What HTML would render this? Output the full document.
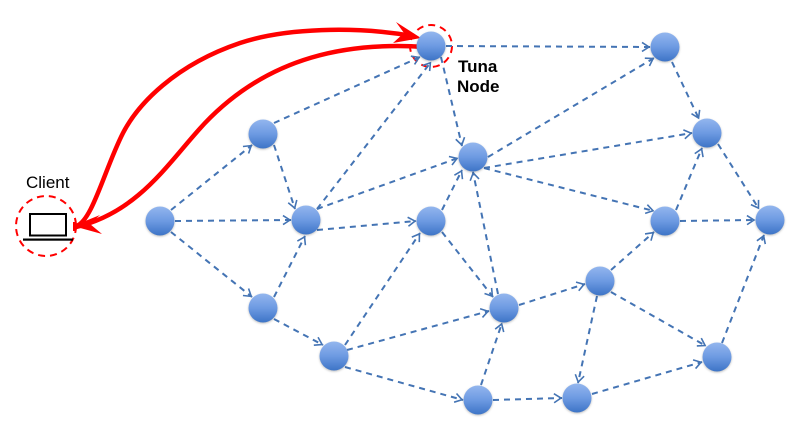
<!DOCTYPE html>
<html><head><meta charset="utf-8"><style>
html,body{margin:0;padding:0;background:#fff}
svg{display:block}
text{font-family:"Liberation Sans",sans-serif;fill:#000}
</style></head><body>
<svg width="800" height="426" viewBox="0 0 800 426" xmlns="http://www.w3.org/2000/svg">
<defs>
<linearGradient id="g" x1="0" y1="0" x2="0" y2="1"><stop offset="0" stop-color="#93b6ee"/><stop offset=".5" stop-color="#6d9ae2"/><stop offset="1" stop-color="#3d74c6"/></linearGradient>
<marker id="a" markerUnits="userSpaceOnUse" markerWidth="1" markerHeight="1" orient="auto" overflow="visible" refX="0" refY="0">
<path d="M-8,-4.500 L-1,0 L-8,4.500" fill="none" stroke="#4474b4" stroke-width="1.600"/>
</marker>
</defs>
<g fill="none" stroke="#f00" stroke-width="2" stroke-dasharray="7 5">
<circle cx="46" cy="226" r="30"/>
<circle cx="431" cy="46" r="21"/>
</g>
<g stroke="#4474b4" stroke-width="2" stroke-dasharray="6 5" fill="none" marker-end="url(#a)">
<path d="M171,210L252,145"/>
<path d="M175,221L291,220"/>
<path d="M171,232L252,297"/>
<path d="M274,145L295,209"/>
<path d="M274,123L420,57"/>
<path d="M317,209L431,62"/>
<path d="M274,297L305,236"/>
<path d="M274,319L323,345"/>
<path d="M317,209L458,158"/>
<path d="M317,230L416,221"/>
<path d="M345,345L420,233"/>
<path d="M347,350L489,311"/>
<path d="M345,367L463,400"/>
<path d="M446,46L650,47"/>
<path d="M441,57L462,146"/>
<path d="M442,210L462,170"/>
<path d="M442,232L493,297"/>
<path d="M498,294L473,172"/>
<path d="M519,305L585,284"/>
<path d="M481,385L502,323"/>
<path d="M493,400L562,398"/>
<path d="M592,394L702,362"/>
<path d="M597,296L578,383"/>
<path d="M611,270L654,232"/>
<path d="M611,292L706,346"/>
<path d="M488,157L654,58"/>
<path d="M484,168L692,133"/>
<path d="M484,168L654,211"/>
<path d="M672,62L699,119"/>
<path d="M676,210L702,148"/>
<path d="M718,144L759,209"/>
<path d="M680,221L755,220"/>
<path d="M722,343L764,235"/>
</g>
<g fill="none" stroke="#f00" stroke-width="4.500">
<path d="M76,226 C92,222 105,168 123,133 C138,104 175,65 240,43 C285,28 355,26 412,36"/>
<path d="M425,47 C350,42 270,55 205,123 C170,160 140,212 76,227"/>
</g>
<g fill="#f00">
<path d="M421,38 L396,22 L404,33 L393,43Z"/>
<path d="M73,226 L100,215 L90,224 L102,234Z"/>
<rect x="73" y="222" width="3" height="9"/>
</g>
<g fill="url(#g)" style="filter:drop-shadow(0 1px 1px rgba(0,0,0,.25))">
<circle cx="160" cy="221" r="14.500"/><circle cx="263" cy="134" r="14.500"/><circle cx="306" cy="220" r="14.500"/>
<circle cx="263" cy="308" r="14.500"/><circle cx="334" cy="356" r="14.500"/><circle cx="431" cy="46" r="14.500"/>
<circle cx="473" cy="157" r="14.500"/><circle cx="431" cy="221" r="14.500"/><circle cx="504" cy="308" r="14.500"/>
<circle cx="478" cy="400" r="14.500"/><circle cx="577" cy="398" r="14.500"/><circle cx="600" cy="281" r="14.500"/>
<circle cx="665" cy="47" r="14.500"/><circle cx="707" cy="133" r="14.500"/><circle cx="665" cy="221" r="14.500"/>
<circle cx="770" cy="220" r="14.500"/><circle cx="717" cy="357" r="14.500"/>
</g>
<rect x="30" y="214" width="36" height="21.500" fill="#fff" stroke="#000" stroke-width="2"/>
<rect x="23" y="238.500" width="50" height="2.200" fill="#000"/>
<text x="26" y="188" font-size="17">Client</text>
<text x="458" y="72" font-size="17" font-weight="bold">Tuna</text>
<text x="457" y="92" font-size="17" font-weight="bold">Node</text>
</svg>
</body></html>
